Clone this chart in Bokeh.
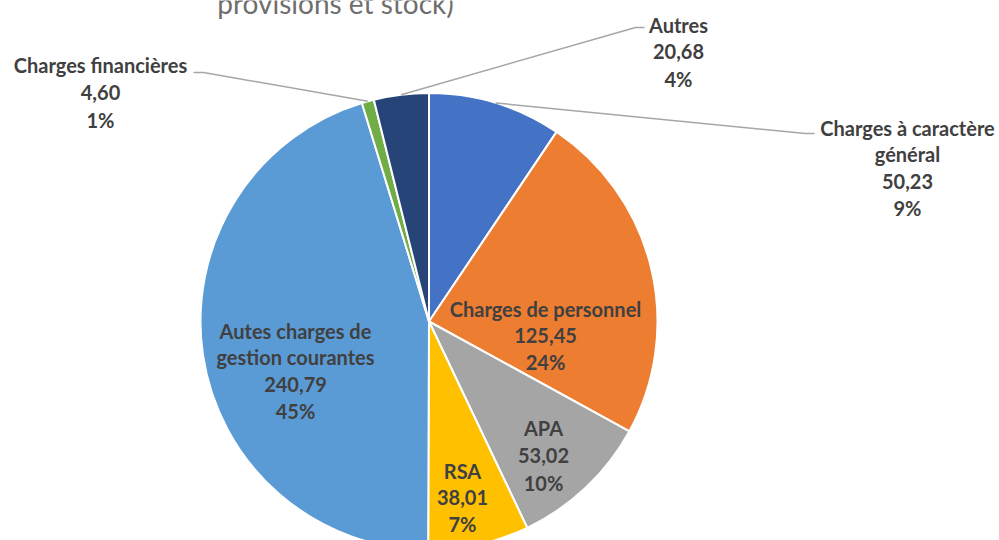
import math
from bokeh.plotting import figure
from bokeh.models import Range1d, ColumnDataSource
from bokeh.core.properties import value
from bokeh.embed import file_html
from bokeh.resources import INLINE

# ---- data ----
categories = ["Charges à caractère général", "Charges de personnel", "APA", "RSA",
              "Autes charges de gestion courantes", "Charges financières", "Autres"]
name_lines = [["Charges à caractère", "général"], ["Charges de personnel"], ["APA"], ["RSA"],
              ["Autes charges de", "gestion courantes"], ["Charges financières"], ["Autres"]]
values = [50.23, 125.45, 53.02, 38.01, 240.79, 4.60, 20.68]
colors = ["#4472C4", "#ED7D31", "#A5A5A5", "#FFC000", "#5B9BD5", "#70AD47", "#264478"]
title_text = "provisions et stock)"

W, H = 999, 540
REF_H = 540

def Y(ry):
    return REF_H - ry

p = figure(width=W, height=H, output_backend="svg", toolbar_location=None,
           x_range=Range1d(0, W), y_range=Range1d(0, H),
           min_border=0, outline_line_color=None)
p.axis.visible = False
p.xgrid.visible = False
p.ygrid.visible = False
p.background_fill_color = "white"

cx, cy, r = 428.5, Y(321), 228.5
total = sum(values)
starts, ends, mids = [], [], []
cum = 0.0
for v in values:
    a0 = math.pi / 2 - 2 * math.pi * cum / total
    cum += v
    a1 = math.pi / 2 - 2 * math.pi * cum / total
    starts.append(a0)
    ends.append(a1)
    mids.append((a0 + a1) / 2)

src = ColumnDataSource(dict(start=starts, end=ends, color=colors, cat=categories))
p.wedge(x=cx, y=cy, radius=r, start_angle="start", end_angle="end", direction="clock",
        fill_color="color", line_color="white", line_width=2, source=src)

# label layout: (center x, first line y, spacing) in reference pixels
layout = {
    0: (907, 127, 26.8),
    1: (545, 308, 26.8),
    2: (543, 427, 27.5),
    3: (462, 470, 26.5),
    4: (295, 330, 26.9),
    5: (100, 64, 27.5),
    6: (678, 24, 27),
}
tx, ty, tt = [], [], []
for i, v in enumerate(values):
    lines = list(name_lines[i]) + [f"{v:.2f}".replace(".", ","), f"{round(100 * v / total)}%"]
    x0, y0, dy = layout[i]
    for k, s in enumerate(lines):
        tx.append(x0)
        ty.append(Y(y0 + k * dy))
        tt.append(s)
p.text(x=tx, y=ty, text=tt, text_align="center", text_baseline="middle",
       text_font=value("Lato"), text_font_style="bold", text_font_size="20px",
       text_color="#404040")

# leader lines for outside labels: (slice index, elbow point, end point)
leaders = [(5, (203, 72), (193, 72)), (6, (635, 27), (644, 27)), (0, (805, 133), (814, 133))]
for i, (ex, ey), (fx, fy) in leaders:
    ax = cx + r * math.cos(mids[i])
    ay = cy + r * math.sin(mids[i])
    p.line(x=[ax, ex, fx], y=[ay, Y(ey), Y(fy)], line_color="#A6A6A6", line_width=1.5)

p.text(x=[335], y=[Y(2)], text=[title_text], text_align="center", text_baseline="middle",
       text_font=value("Lato"), text_font_size="28px", text_color="#6E6E6E")

open("out.html", "w").write(file_html(p, INLINE))
